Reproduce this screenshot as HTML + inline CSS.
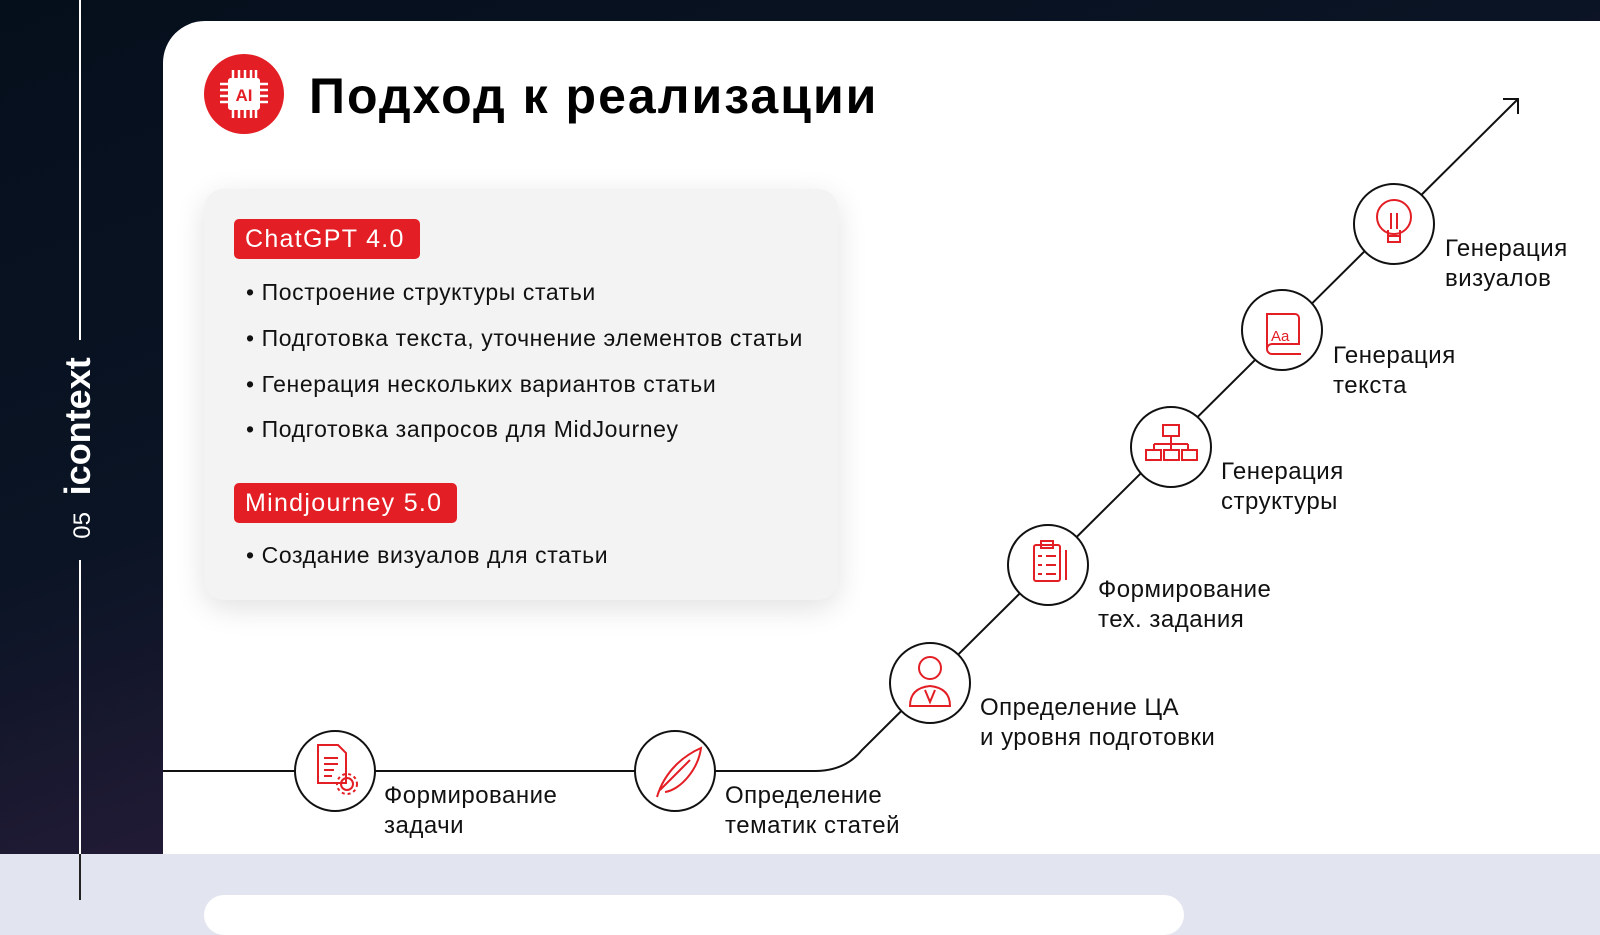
<!DOCTYPE html>
<html><head><meta charset="utf-8"><style>
*{margin:0;padding:0;box-sizing:border-box}
body{width:1600px;height:900px;overflow:hidden;position:relative;font-family:"Liberation Sans","DejaVu Sans",sans-serif;background:#e2e4f0}
.dark{position:absolute;left:0;top:0;width:1600px;height:854px;background:linear-gradient(160deg,#050f1c 0%,#0a1424 40%,#2a1d3c 72%,#1a1a35 100%)}
.vline{position:absolute;left:79px;width:2px;background:#fff}
.panel{position:absolute;left:163px;top:21px;width:1460px;height:833px;background:#fff;border-top-left-radius:42px}
.side{position:absolute;left:78px;top:448px;transform:translate(-50%,-50%) rotate(-90deg);color:#fff;white-space:nowrap;font-size:24px}
.side b{font-size:36px;margin-left:10px}
.title{position:absolute;left:309px;top:67px;font-size:50px;font-weight:bold;color:#000;letter-spacing:2px}
.card{position:absolute;left:204px;top:189px;width:634px;height:411px;background:#f3f3f3;border-radius:20px;box-shadow:0 8px 30px rgba(0,0,0,.12)}
.badge{position:absolute;left:234px;height:40px;background:#e31e24;color:#fff;font-size:25px;letter-spacing:1.3px;line-height:40px;padding:0 15px 0 11px;border-radius:5px}
.bl{position:absolute;left:246px;font-size:23px;letter-spacing:0.6px;color:#111;white-space:nowrap}
.lab{position:absolute;font-size:24px;letter-spacing:0.5px;line-height:30px;color:#111;white-space:nowrap}
.bottomcard{position:absolute;left:204px;top:895px;width:980px;height:40px;background:#fff;border-radius:20px}
</style></head><body>
<div class="dark"></div>
<div class="vline" style="top:0;height:340px"></div>
<div class="vline" style="top:560px;height:340px;background:#222"></div>
<div class="vline" style="top:560px;height:294px"></div>
<div class="side">05 <b>icontext</b></div>
<div class="panel"></div>
<div class="bottomcard"></div>
<svg style="position:absolute;left:0;top:0" width="1600" height="900">
<circle cx="244" cy="94" r="40" fill="#e31e24"/>
<g fill="#fff"><rect x="228" y="78" width="32" height="32" rx="3"/>
<g stroke="#fff" stroke-width="2.5"><line x1="233" y1="70" x2="233" y2="118"/><line x1="239" y1="70" x2="239" y2="118"/><line x1="245" y1="70" x2="245" y2="118"/><line x1="251" y1="70" x2="251" y2="118"/><line x1="256" y1="70" x2="256" y2="118"/>
<line x1="220" y1="84" x2="268" y2="84"/><line x1="220" y1="90" x2="268" y2="90"/><line x1="220" y1="96" x2="268" y2="96"/><line x1="220" y1="102" x2="268" y2="102"/></g>
<rect x="228" y="78" width="32" height="32" rx="3"/></g>
<text x="244" y="101" text-anchor="middle" font-family="Liberation Sans" font-weight="bold" font-size="17" fill="#e31e24">AI</text>
<path d="M163 771 H815 Q845 771 862 750 L1518 99" fill="none" stroke="#111" stroke-width="2"/>
<path d="M1503 99 H1518 V114" fill="none" stroke="#111" stroke-width="2"/>
<g fill="#fff" stroke="#111" stroke-width="2">
<circle cx="335" cy="771" r="40"/><circle cx="675" cy="771" r="40"/><circle cx="930" cy="683" r="40"/>
<circle cx="1048" cy="565" r="40"/><circle cx="1171" cy="447" r="40"/><circle cx="1282" cy="330" r="40"/><circle cx="1394" cy="224" r="40"/>
</g>
<g fill="none" stroke="#e31e24" stroke-width="2">
<path d="M318 745 h20 l8 8 v30 h-28 z"/><path d="M324 758h14M324 764h14M324 770h10M324 776h8"/><circle cx="347" cy="784" r="6"/><circle cx="347" cy="784" r="10" stroke-dasharray="3 3"/>
<path d="M657 797 C665 770 685 755 701 748 C698 770 680 790 665 792"/><path d="M660 790 L690 760"/>
<circle cx="930" cy="668" r="11"/><path d="M910 706 q0-18 20-20 q20 2 20 20 z"/><path d="M925 690 l5 12 l5-12"/>
<rect x="1034" y="545" width="26" height="36" rx="2"/><rect x="1041" y="541" width="12" height="7"/><path d="M1038 556h4M1046 556h10M1038 565h4M1046 565h10M1038 574h4M1046 574h10"/><path d="M1066 550v30"/>
<rect x="1163" y="425" width="16" height="11"/><path d="M1171 436v8M1154 444h34M1154 444v6M1171 444v6M1188 444v6"/><rect x="1146" y="450" width="15" height="10"/><rect x="1164" y="450" width="15" height="10"/><rect x="1182" y="450" width="15" height="10"/>
<path d="M1267 348 V314 h28 a4 4 0 0 1 4 4 v26 h-27 a5 5 0 0 0 0 10 h29"/>
<circle cx="1394" cy="217" r="17"/><path d="M1388 230v12h12v-12M1389 236h10M1391 213v16M1397 213v16"/>
</g>
<text x="1271" y="341" font-family="Liberation Sans" font-size="15" fill="#e31e24">Aa</text>
</svg>
<div class="title">Подход к реализации</div>
<div class="card"></div>
<div class="badge" style="top:219px">ChatGPT 4.0</div>
<div class="bl" style="top:279px">• Построение структуры статьи</div>
<div class="bl" style="top:325px">• Подготовка текста, уточнение элементов статьи</div>
<div class="bl" style="top:371px">• Генерация нескольких вариантов статьи</div>
<div class="bl" style="top:416px">• Подготовка запросов для MidJourney</div>
<div class="badge" style="top:483px">Mindjourney 5.0</div>
<div class="bl" style="top:542px">• Создание визуалов для статьи</div>
<div class="lab" style="left:384px;top:781px">Формирование<br>задачи</div>
<div class="lab" style="left:725px;top:781px">Определение<br>тематик статей</div>
<div class="lab" style="left:980px;top:693px">Определение ЦА<br>и уровня подготовки</div>
<div class="lab" style="left:1098px;top:575px">Формирование<br>тех. задания</div>
<div class="lab" style="left:1221px;top:457px">Генерация<br>структуры</div>
<div class="lab" style="left:1333px;top:341px">Генерация<br>текста</div>
<div class="lab" style="left:1445px;top:234px">Генерация<br>визуалов</div>
</body></html>
